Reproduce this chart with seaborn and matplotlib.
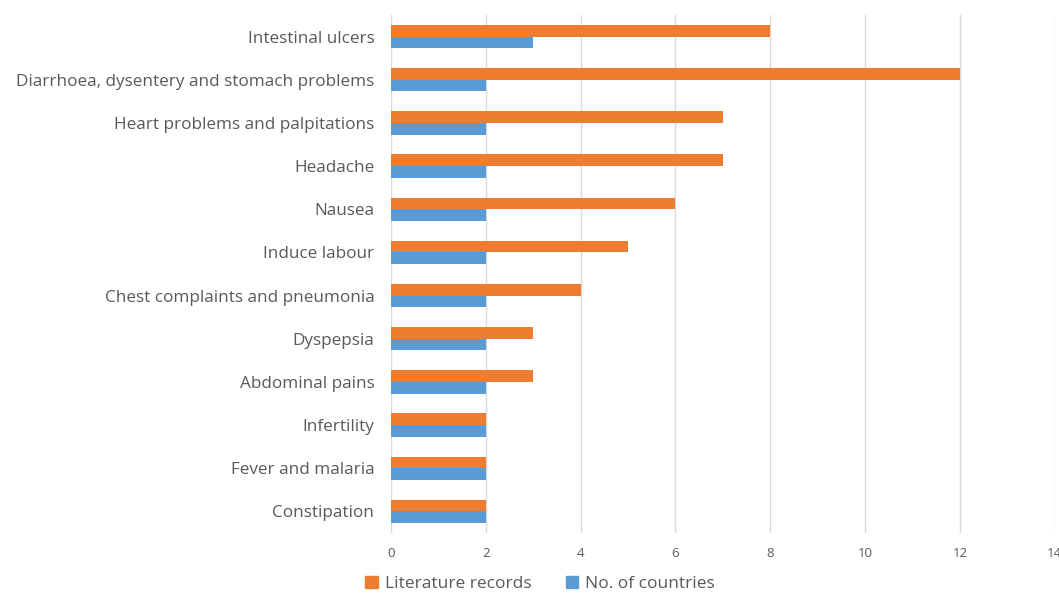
import pandas as pd
import seaborn as sns
import matplotlib.pyplot as plt
from matplotlib.patches import Patch

# categories top -> bottom
conditions = ["Intestinal ulcers", "Diarrhoea, dysentery and stomach problems",
              "Heart problems and palpitations", "Headache", "Nausea", "Induce labour",
              "Chest complaints and pneumonia", "Dyspepsia", "Abdominal pains",
              "Infertility", "Fever and malaria", "Constipation"]
literature_records = [8, 12, 7, 7, 6, 5, 4, 3, 3, 2, 2, 2]
no_of_countries = [3, 2, 2, 2, 2, 2, 2, 2, 2, 2, 2, 2]
series_names = ["Literature records", "No. of countries"]
colors = ["#ED7D31", "#5B9BD5"]
xticks = [0, 2, 4, 6, 8, 10, 12, 14]

df = pd.DataFrame({
    "Condition": conditions * 2,
    "Value": literature_records + no_of_countries,
    "Series": [series_names[0]] * len(conditions) + [series_names[1]] * len(conditions),
})

sns.set_style("white")
plt.rcParams['font.family'] = ['Open Sans', 'DejaVu Sans']
txt = "#595959"

fig = plt.figure(figsize=(10.59, 5.93), dpi=100)
ax = fig.add_axes([0.3692, 0.1012, 0.6268, 0.8735])

sns.barplot(data=df, y="Condition", x="Value", hue="Series", order=conditions,
            hue_order=series_names, palette=colors, orient="h", width=0.54,
            gap=0, saturation=1, linewidth=0, ax=ax, legend=False)

ax.set_xlim(0, 14)
ax.set_ylim(len(conditions) - 0.5, -0.5)
ax.set_xticks(xticks)
ax.set_xticklabels([str(t) for t in xticks], fontsize=9.5, color=txt)
ax.tick_params(axis="y", labelsize=12.3, labelcolor=txt, length=0, pad=12)
ax.tick_params(axis="x", length=0, pad=10)
ax.xaxis.grid(True, color="#D9D9D9", linewidth=1)
ax.set_axisbelow(True)
for s in ax.spines.values():
    s.set_visible(False)
ax.set_xlabel("")
ax.set_ylabel("")

handles = [Patch(color=c, label=n) for c, n in zip(colors, series_names)]
fig.legend(handles=handles, loc="lower center", bbox_to_anchor=(0.51, -0.025), ncol=2,
           frameon=False, fontsize=12.5, labelcolor=txt, handlelength=0.7,
           handleheight=0.7, handletextpad=0.4, columnspacing=2.0)

fig.savefig("out.png", dpi=100)
